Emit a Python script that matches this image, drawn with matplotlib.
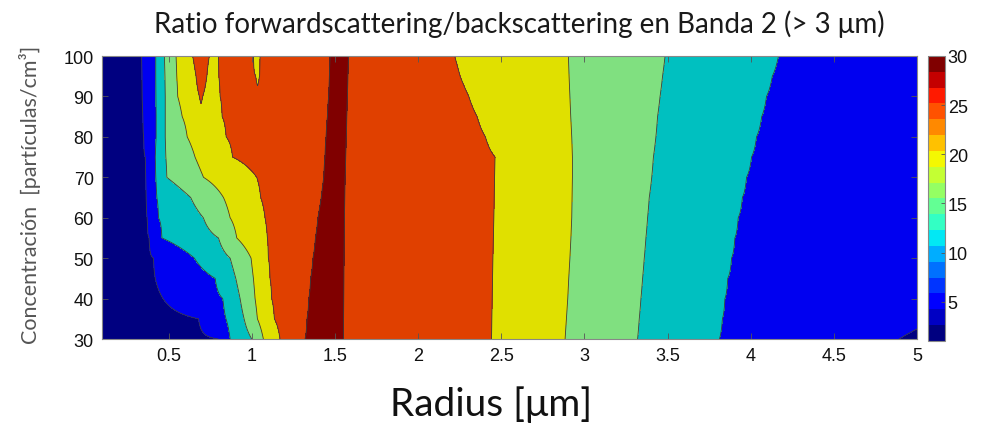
import numpy as np
import matplotlib
matplotlib.use('Agg')
import matplotlib.pyplot as plt
from matplotlib.colors import Normalize
from matplotlib.cm import ScalarMappable

# Concentración [partículas/cm3], una fila por valor
concentracion = [30, 35, 40, 45, 50, 55, 60, 65, 70, 75, 80, 85, 90, 95, 100]

# Radio [µm] donde el ratio cruza cada nivel, de izquierda a derecha
radio_5 = [0.80, 0.68, 0.467, 0.42, 0.409, 0.383, 0.372, 0.366, 0.363, 0.36, 0.35, 0.346, 0.342, 0.34, 0.338]
radio_10 = [0.87, 0.845, 0.826, 0.78, 0.655, 0.46, 0.439, 0.429, 0.423, 0.42, 0.425, 0.425, 0.424, 0.423, 0.423]
radio_15 = [1.0, 0.954, 0.93, 0.904, 0.87, 0.80, 0.709, 0.633, 0.489, 0.483, 0.48, 0.48, 0.48, 0.478, 0.475]
radio_20 = [1.07, 1.034, 1.02, 1.01, 0.996, 0.91, 0.87, 0.83, 0.71, 0.659, 0.612, 0.582, 0.555, 0.549, 0.545]
radio_25 = [1.17, 1.136, 1.12, 1.11, 1.10, 1.094, 1.08, 1.054, 1.03, 0.885, 0.846, 0.822, 0.81, 0.802, 0.80]
radio_30a = [1.32, 1.332, 1.343, 1.354, 1.368, 1.383, 1.398, 1.418, 1.433, 1.44, 1.447, 1.455, 1.463, 1.467, 1.471]
radio_30b = [1.551, 1.552, 1.553, 1.554, 1.555, 1.556, 1.557, 1.559, 1.561, 1.565, 1.568, 1.571, 1.575, 1.578, 1.581]
radio_25b = [2.442, 2.444, 2.446, 2.448, 2.45, 2.453, 2.456, 2.458, 2.46, 2.463, 2.405, 2.355, 2.305, 2.253, 2.22]
radio_20b = [2.884, 2.892, 2.9, 2.906, 2.913, 2.919, 2.924, 2.926, 2.928, 2.928, 2.924, 2.918, 2.913, 2.908, 2.904]
radio_15b = [3.32, 3.33, 3.34, 3.35, 3.36, 3.37, 3.38, 3.39, 3.405, 3.415, 3.43, 3.44, 3.455, 3.47, 3.485]
radio_10b = [3.812, 3.83, 3.845, 3.862, 3.885, 3.905, 3.925, 3.95, 3.975, 4.005, 4.035, 4.066, 4.095, 4.13, 4.167]

ratio_izq = 2.0       # ratio en r = 0.1
ratio_pico = 31.0     # máximo de la banda roja oscura
ratio_der = [4.5, 5.5, 6, 6, 6, 6, 6, 6, 6, 6, 6, 6, 6, 6, 6]   # ratio en r = 5

# lenguas de la parte alta: pares (radio, ratio)
lengua_naranja = {
    90: [(0.685, 25), (0.695, 26.4), (0.705, 25), (0.757, 23)],
    95: [(0.665, 25), (0.698, 27), (0.73, 25), (0.766, 23)],
    100: [(0.645, 25), (0.695, 27), (0.745, 25), (0.773, 23)],
}
lengua_amarilla = {
    95: [(0.913, 27), (1.024, 25), (1.035, 23.5), (1.046, 25)],
    100: [(0.905, 27), (1.01, 25), (1.03, 23), (1.05, 25)],
}

niveles = [0, 5, 10, 15, 20, 25, 30, 40]
colores = ['#000080', '#0000f0', '#00c0c0', '#80e080', '#e0e000', '#e04000', '#800000']

# tabla del ratio por fila
radio = np.linspace(0.1, 5.0, 1961)
filas = []
for i, c in enumerate(concentracion):
    nudos = [(0.1, ratio_izq), (radio_5[i], 5), (radio_10[i], 10), (radio_15[i], 15), (radio_20[i], 20)]
    nudos += lengua_naranja.get(c, [])
    nudos += [(radio_25[i], 25)]
    nudos += lengua_amarilla.get(c, [])
    nudos += [(radio_30a[i], 30), ((radio_30a[i] + radio_30b[i]) / 2, ratio_pico), (radio_30b[i], 30),
              (radio_25b[i], 25), (radio_20b[i], 20), (radio_15b[i], 15), (radio_10b[i], 10),
              (5.0, ratio_der[i])]
    rr = [n[0] for n in nudos]
    vv = [n[1] for n in nudos]
    filas.append(np.interp(radio, rr, vv))
Z = np.array(filas)

fig = plt.figure(figsize=(9.85, 4.31), dpi=100)
ax = fig.add_axes([0.1036, 0.2111, 0.8274, 0.6566])
ax.contourf(radio, concentracion, Z, levels=niveles, colors=colores)
ax.contour(radio, concentracion, Z, levels=niveles[1:-1], colors='#3c3c3c', linewidths=0.6)

ax.set_xlim(0.1, 5.0)
ax.set_ylim(30, 100)
ax.set_xticks([0.5, 1, 1.5, 2, 2.5, 3, 3.5, 4, 4.5, 5])
ax.set_xticklabels(['0.5', '1', '1.5', '2', '2.5', '3', '3.5', '4', '4.5', '5'])
ax.set_yticks([30, 40, 50, 60, 70, 80, 90, 100])
ax.tick_params(direction='in', length=4, width=0.6, labelsize=13, pad=6,
               top=True, right=True, colors='#555555', labelcolor='#111111')
for lab in ax.get_xticklabels() + ax.get_yticklabels():
    lab.set_family('Liberation Sans')
for s in ax.spines.values():
    s.set_color('#888888')
    s.set_linewidth(0.8)

# barra de color
cax = fig.add_axes([0.942, 0.2065, 0.0173, 0.6613])
sm = ScalarMappable(norm=Normalize(1, 30), cmap=matplotlib.colormaps['jet'].resampled(18))
cb = fig.colorbar(sm, cax=cax, ticks=[5, 10, 15, 20, 25, 30])
cb.outline.set_edgecolor('#888888')
cb.outline.set_linewidth(0.8)
cax.tick_params(direction='in', length=3, width=0.6, labelsize=13, pad=2, colors='#555555', labelcolor='#111111')
for lab in cax.get_yticklabels():
    lab.set_family('Liberation Sans')

fig.text(0.527, 0.945, 'Ratio forwardscattering/backscattering en Banda 2 (> 3 μm)',
         ha='center', va='center', fontsize=20, family='Lato', color='#1a1a1a')
fig.text(0.0305, 0.5476, 'Concentración  [partículas/cm³]', rotation=90,
         ha='center', va='center', fontsize=15.5, family='Lato', color='#555555')
fig.text(0.4985, 0.0603, 'Radius [μm]', ha='center', va='center', fontsize=28, family='Lato', color='#111111')

fig.savefig('out.png', dpi=100)
